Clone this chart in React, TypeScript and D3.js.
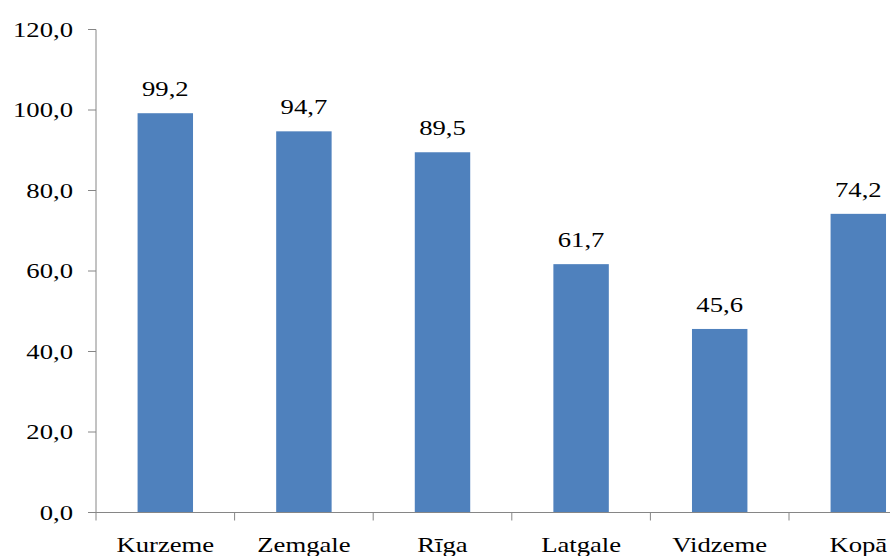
import React from "react";
import * as d3 from "d3";

const categories = ["Kurzeme", "Zemgale", "Rīga", "Latgale", "Vidzeme", "Kopā"];
const values = [99.2, 94.7, 89.5, 61.7, 45.6, 74.2];
const yTicks = [0, 20, 40, 60, 80, 100, 120];

const W = 890;
const H = 556;
const FONT = '"Liberation Serif", Tinos, "Times New Roman", Times, "DejaVu Serif", serif';
const FS = 21;
const SX = 1.27;
const fmt = (v: number) => v.toFixed(1).replace(".", ",");

const txtStyle: React.CSSProperties = { fontFamily: FONT, fontSize: FS, fill: "#000" };

export default function App() {
  const x0 = 96;
  const step = 138.6;
  const x = d3
    .scaleBand<string>()
    .domain(categories)
    .range([x0, x0 + step * categories.length])
    .paddingInner(0.6)
    .paddingOuter(0.3);
  const y = d3.scaleLinear().domain([0, 120]).range([512.5, 29.5]);
  const axisColor = "#868686";

  return (
    <svg
      width={W}
      height={H}
      style={{ position: "absolute", left: 0, top: 0, display: "block", background: "#fff" }}
    >
      {categories.map((c, i) => (
        <rect
          key={c}
          x={x(c)!}
          y={y(values[i])}
          width={x.bandwidth()}
          height={y(0) - y(values[i])}
          fill="#4F81BD"
        />
      ))}
      <line x1={x0} x2={x0} y1={y(120)} y2={y(0)} stroke={axisColor} strokeWidth={1} />
      {yTicks.map((t) => (
        <g key={t}>
          <line x1={x0 - 8} x2={x0} y1={y(t)} y2={y(t)} stroke={axisColor} strokeWidth={1} />
          <g transform={`translate(73,${y(t) + 7}) scale(${SX},1)`}>
            <text textAnchor="end" style={txtStyle}>
              {fmt(t)}
            </text>
          </g>
        </g>
      ))}
      <line x1={x0} x2={x0 + step * categories.length} y1={y(0)} y2={y(0)} stroke={axisColor} strokeWidth={1} />
      {d3.range(categories.length + 1).map((i) => (
        <line
          key={i}
          x1={x0 + i * x.step()}
          x2={x0 + i * x.step()}
          y1={y(0)}
          y2={y(0) + 8}
          stroke={axisColor}
          strokeWidth={1}
        />
      ))}
      {categories.map((c) => (
        <g key={c} transform={`translate(${x(c)! + x.bandwidth() / 2},552) scale(${SX},1)`}>
          <text textAnchor="middle" style={txtStyle}>
            {c}
          </text>
        </g>
      ))}
      {categories.map((c, i) => (
        <g key={c} transform={`translate(${x(c)! + x.bandwidth() / 2},${y(values[i]) - 17}) scale(${SX},1)`}>
          <text textAnchor="middle" style={txtStyle}>
            {fmt(values[i])}
          </text>
        </g>
      ))}
    </svg>
  );
}
